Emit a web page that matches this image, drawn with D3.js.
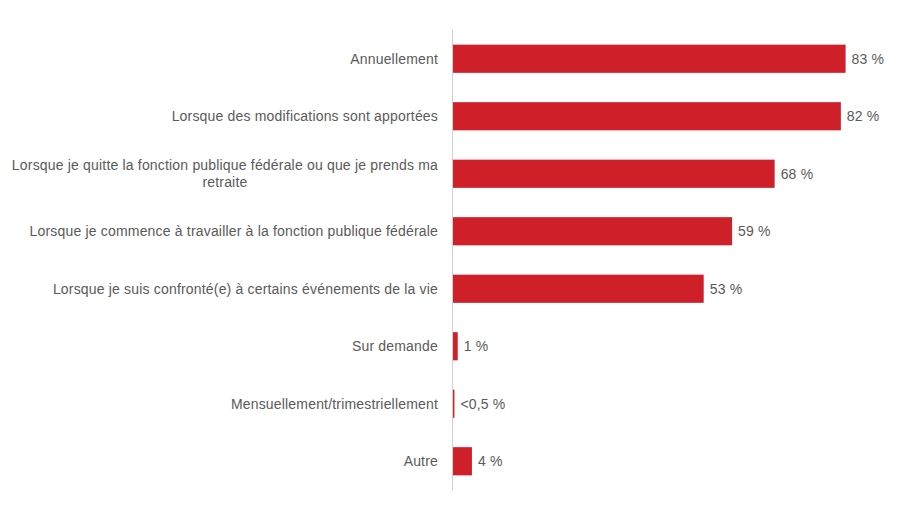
<!DOCTYPE html>
<meta charset="utf-8">
<script src="https://d3js.org/d3.v7.min.js"></script>
<style>
  body { margin: 0; background: #fff; }
  text { font-family: "Liberation Sans", Arial, sans-serif; font-size: 14px; fill: #5a5a5a; letter-spacing: 0.18px; }
</style>
<div id="my_dataviz"></div>
<script>
  // data
  var categories = [
    ["Annuellement"],
    ["Lorsque des modifications sont apportées"],
    ["Lorsque je quitte la fonction publique fédérale ou que je prends ma", "retraite"],
    ["Lorsque je commence à travailler à la fonction publique fédérale"],
    ["Lorsque je suis confronté(e) à certains événements de la vie"],
    ["Sur demande"],
    ["Mensuellement/trimestriellement"],
    ["Autre"]
  ];
  var values = [83, 82, 68, 59, 53, 1, 0.3, 4];
  var valueLabels = ["83 %", "82 %", "68 %", "59 %", "53 %", "1 %", "<0,5 %", "4 %"];

  var width = 900, height = 506;
  var x0 = 453;

  var svg = d3.select("#my_dataviz")
    .append("svg")
      .attr("width", width)
      .attr("height", height);

  var idx = d3.range(values.length);

  var x = d3.scaleLinear()
    .domain([0, 100])
    .range([x0, x0 + 473]);

  var y = d3.scaleBand()
    .domain(idx)
    .range([30, 490])
    .paddingInner(0.51)
    .paddingOuter(0.255);

  // bars
  svg.selectAll("rect.bar")
    .data(idx)
    .enter()
    .append("rect")
      .attr("class", "bar")
      .attr("x", x(0))
      .attr("y", function(i) { return y(i); })
      .attr("width", function(i) { return Math.max(1, x(values[i]) - x(0)); })
      .attr("height", y.bandwidth())
      .attr("fill", "#cf202a");

  // axis line
  svg.append("line")
    .attr("x1", x(0) - 0.5).attr("x2", x(0) - 0.5)
    .attr("y1", y.range()[0]).attr("y2", y.range()[1])
    .attr("stroke", "#d0d0d0")
    .attr("stroke-width", 1);

  // value labels
  svg.selectAll("text.val")
    .data(idx)
    .enter()
    .append("text")
      .attr("class", "val")
      .attr("x", function(i) { return x(values[i]) + 6; })
      .attr("y", function(i) { return y(i) + y.bandwidth() / 2; })
      .attr("dy", "0.35em")
      .text(function(i) { return valueLabels[i]; });

  // category labels, lines centered inside a right-aligned block
  var lineH = 17;
  var labelRight = x(0) - 15;
  idx.forEach(function(i) {
    var lines = categories[i];
    var g = svg.append("g");
    var cy = y(i) + y.bandwidth() / 2;
    var texts = lines.map(function(s, k) {
      return g.append("text")
        .attr("y", cy + (k - (lines.length - 1) / 2) * lineH)
        .attr("dy", "0.35em")
        .text(s);
    });
    var widths = texts.map(function(t) { return t.node().getComputedTextLength(); });
    var maxW = d3.max(widths);
    texts.forEach(function(t, k) {
      t.attr("x", labelRight - maxW + (maxW - widths[k]) / 2);
    });
  });
</script>
